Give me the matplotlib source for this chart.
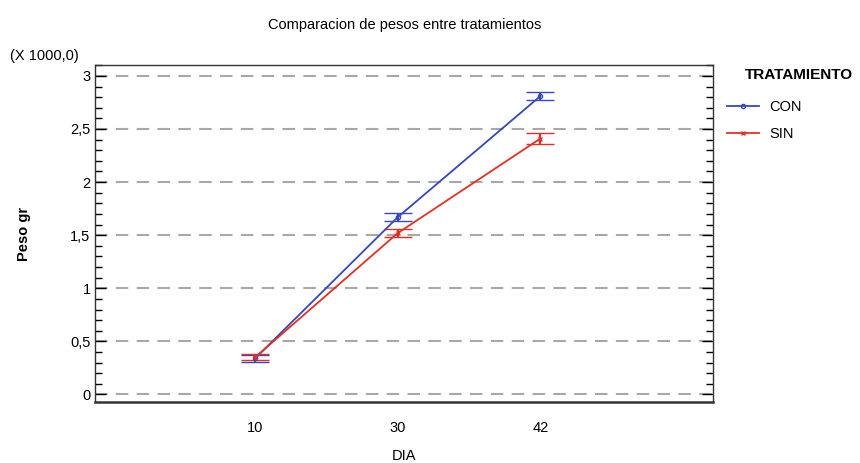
import matplotlib

matplotlib.use("Agg")
import matplotlib.pyplot as plt
from matplotlib.lines import Line2D
from matplotlib.ticker import FuncFormatter, MultipleLocator

plt.rcParams["font.family"] = ["Liberation Sans", "DejaVu Sans"]

# Data (peso in thousands of grams)
DIAS = ["10", "30", "42"]
CON_MEAN = [0.34, 1.67, 2.81]
CON_ERR = [0.03, 0.04, 0.04]
SIN_MEAN = [0.35, 1.52, 2.41]
SIN_ERR = [0.03, 0.04, 0.05]
GROUPS = ["CON", "SIN"]

BLUE = "#3546c0"
RED = "#e23024"

fig = plt.figure(figsize=(8.6, 4.63), dpi=100)
ax = fig.add_axes([0.111, 0.132, 0.718, 0.727])

x = list(range(len(DIAS)))
ax.errorbar(x, CON_MEAN, yerr=CON_ERR, color=BLUE, lw=1.3, marker="o", ms=3,
            mfc="none", mew=1.0, capsize=10, capthick=2.8, elinewidth=1.6)
ax.errorbar(x, SIN_MEAN, yerr=SIN_ERR, color=RED, lw=1.3, marker="x", ms=3,
            mew=1.0, capsize=10, capthick=2.8, elinewidth=1.6)

ax.set_xlim(-1.12, 3.21)
ax.set_ylim(-0.07, 3.1)
ax.set_xticks(x)
ax.set_xticklabels(DIAS)
ax.tick_params(axis="x", length=0, pad=14, labelsize=10.5)

ax.yaxis.set_major_locator(MultipleLocator(0.5))
ax.yaxis.set_minor_locator(MultipleLocator(0.1))
ax.yaxis.set_major_formatter(FuncFormatter(lambda v, p: f"{v:g}".replace(".", ",")))
ax.tick_params(axis="y", which="major", direction="in", length=8, right=True,
               labelsize=10.5, width=1)
ax.tick_params(axis="y", which="minor", direction="in", length=5, right=True, width=1)

ax.grid(axis="y", which="major", color="#a8a8a8", linestyle=(0, (6, 4)), lw=1.5)
ax.set_axisbelow(True)
for s in ax.spines.values():
    s.set_color("#333333")
    s.set_linewidth(1.0)
ax.spines["bottom"].set_linewidth(1.8)

ax.set_title("Comparacion de pesos entre tratamientos", fontsize=10.5, pad=26)
ax.set_xlabel("DIA", fontsize=10.5, labelpad=10)
ax.set_ylabel("Peso gr", fontsize=10.5, fontweight="bold", labelpad=28)
fig.text(0.012, 0.87, "(X 1000,0)", fontsize=10.5)

handles = [
    Line2D([], [], color=BLUE, lw=1.3, marker="o", ms=3, mfc="none", mew=1.0),
    Line2D([], [], color=RED, lw=1.3, marker="x", ms=3, mew=1.0),
]
fig.text(0.866, 0.838, "TRATAMIENTO", fontsize=11, fontweight="bold", va="center")
fig.legend(handles, GROUPS, loc="upper left", bbox_to_anchor=(0.845, 0.783),
           frameon=False, fontsize=10.5, handlelength=2.2, borderpad=0,
           borderaxespad=0, handletextpad=0.7, labelspacing=0.85)

fig.savefig("out.png", dpi=100)
